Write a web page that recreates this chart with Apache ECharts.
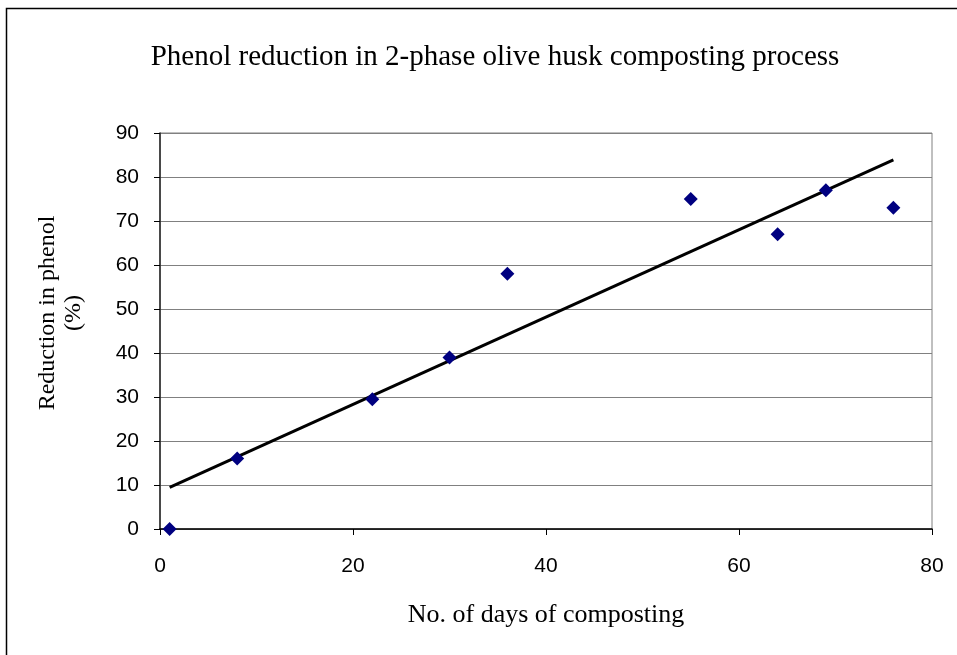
<!DOCTYPE html>
<html>
<head>
<meta charset="utf-8">
<style>
  html, body { margin: 0; padding: 0; background: #fff; }
  #chart { width: 957px; height: 655px; }
</style>
<script src="https://cdn.jsdelivr.net/npm/echarts@6/dist/echarts.min.js"></script>
</head>
<body>
<div id="chart"></div>
<script>
// composting days and phenol reduction (%)
const days = [1, 8, 22, 30, 36, 55, 64, 69, 76]
const reduction = [0, 16, 29.5, 39, 58, 75, 67, 77, 73]

const xTicks = { min: 0, max: 80, interval: 20 }
const yTicks = { min: 0, max: 90, interval: 10 }

// linear trendline (least squares) over the points
function linearFit(xs, ys) {
  const n = xs.length
  let mx = 0, my = 0
  for (let i = 0; i < n; i++) { mx += xs[i]; my += ys[i] }
  mx /= n; my /= n
  let sxy = 0, sxx = 0
  for (let i = 0; i < n; i++) {
    sxy += (xs[i] - mx) * (ys[i] - my)
    sxx += (xs[i] - mx) * (xs[i] - mx)
  }
  const k = sxy / sxx
  return { k: k, b: my - k * mx }
}
const fit = linearFit(days, reduction)
const xFirst = days[0], xLast = days[days.length - 1]
const trend = [[xFirst, fit.k * xFirst + fit.b], [xLast, fit.k * xLast + fit.b]]

const points = days.map((d, i) => [d, reduction[i]])

const serif = '"Liberation Serif", "Times New Roman", serif'
const sans = '"Liberation Sans", Arial, sans-serif'

const chart = echarts.init(document.getElementById('chart'))
chart.setOption({
  animation: false,
  backgroundColor: '#fff',
  graphic: [{
    type: 'rect',
    shape: { x: 6.5, y: 8.5, width: 960, height: 660 },
    style: { fill: 'none', stroke: '#000', lineWidth: 1.5 },
    silent: true
  }, {
    type: 'text',
    x: 61,
    y: 313,
    rotation: Math.PI / 2,
    style: {
      text: 'Reduction in phenol\n(%)',
      font: '24px ' + serif,
      fill: '#000',
      align: 'center',
      verticalAlign: 'middle',
      lineHeight: 26
    }
  }],
  title: {
    text: 'Phenol reduction in 2-phase olive husk composting process',
    left: 490,
    textAlign: 'center',
    top: 38,
    textStyle: {
      fontFamily: serif,
      fontWeight: 'normal',
      fontSize: 29,
      color: '#000'
    }
  },
  grid: { left: 160, right: 25, top: 133, bottom: 126, containLabel: false,
    show: true, borderColor: '#808080', borderWidth: 1 },
  xAxis: {
    type: 'value',
    min: xTicks.min, max: xTicks.max, interval: xTicks.interval,
    name: 'No. of days of composting',
    nameLocation: 'middle',
    nameGap: 73,
    nameTextStyle: { fontFamily: serif, fontSize: 26, color: '#000' },
    axisLine: { lineStyle: { color: '#000', width: 1.5 } },
    axisTick: { show: true, length: 6, lineStyle: { color: '#000' } },
    axisLabel: { fontFamily: sans, fontSize: 21, color: '#000', margin: 27 },
    splitLine: { show: false }
  },
  yAxis: {
    type: 'value',
    min: yTicks.min, max: yTicks.max, interval: yTicks.interval,
    axisLine: { show: true, lineStyle: { color: '#222', width: 1.5 } },
    axisTick: { show: true, length: 6, lineStyle: { color: '#000' } },
    axisLabel: { fontFamily: sans, fontSize: 21, color: '#000', margin: 21 },
    splitLine: { show: true, lineStyle: { color: '#808080', width: 1 } }
  },
  series: [{
    name: 'Trend',
    type: 'line',
    data: trend,
    symbol: 'none',
    lineStyle: { color: '#000', width: 3 },
    z: 2
  }, {
    name: 'Reduction',
    type: 'scatter',
    data: points,
    symbol: 'diamond',
    symbolSize: 14,
    itemStyle: { color: '#000080', opacity: 1 },
    z: 3
  }]
})
</script>
</body>
</html>
